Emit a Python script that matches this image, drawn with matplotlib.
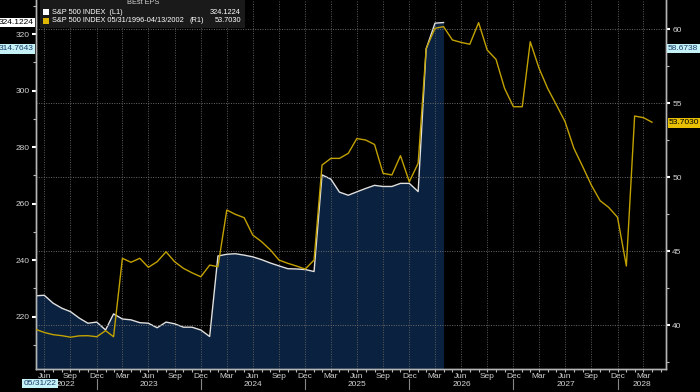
import pandas as pd
import matplotlib
matplotlib.use('Agg')
import matplotlib.pyplot as plt
from matplotlib.patches import Rectangle
from matplotlib.ticker import MultipleLocator
from matplotlib.transforms import blended_transform_factory

# month-end dates, the shifted 1996-2002 series runs the full range
dates = pd.date_range('2022-05-31', periods=72, freq='ME')

# S&P 500 BEst EPS (L1, left axis)
eps_l1 = [227.4, 227.6, 224.8, 223.0, 221.8, 219.5, 217.7, 218.1, 215.3, 221.0,
          219.2, 218.9, 217.9, 217.7, 216.1, 218.1, 217.5, 216.3, 216.3, 215.3,
          213.0, 241.5, 242.1, 242.3, 241.8, 241.2, 240.2, 239.0, 238.0, 237.0,
          236.9, 236.7, 236.0, 270.2, 268.7, 264.1, 263.0, 264.2, 265.4, 266.5,
          266.1, 266.1, 267.2, 267.2, 264.3, 314.7643, 323.9, 324.1224]

# S&P 500 BEst EPS 05/31/1996-04/13/2002 shifted (R1, right axis)
eps_r1 = [39.71, 39.50, 39.35, 39.28, 39.18, 39.27, 39.28, 39.21, 39.62, 39.21,
          44.51, 44.24, 44.51, 43.90, 44.28, 44.95, 44.28, 43.83, 43.53, 43.26,
          44.05, 43.94, 47.77, 47.48, 47.25, 46.08, 45.63, 45.07, 44.39, 44.17,
          43.99, 43.78, 44.39, 50.81, 51.26, 51.26, 51.60, 52.60, 52.50, 52.20,
          50.25, 50.14, 51.44, 49.68, 50.93, 58.6738, 60.05, 60.16, 59.26, 59.10,
          58.97, 60.43, 58.58, 57.95, 55.99, 54.75, 54.75, 59.14, 57.34, 55.99,
          54.86, 53.74, 51.94, 50.70, 49.46, 48.40, 47.95, 47.28, 43.99, 54.12,
          54.01, 53.7030]

title = 'BEst EPS'
label_l1 = 'S&P 500 INDEX  (L1)'
label_r1 = 'S&P 500 INDEX 05/31/1996-04/13/2002'
last_l1 = '324.1224'
last_r1 = '53.7030'
cursor_l1 = '314.7643'
cursor_r1 = '58.6738'
start_label = '05/31/22'

NAVY = '#0a2240'
GOLD = '#c2a200'
TXT = '#d2d2d2'
CYAN = '#c4f2f6'

plt.rcParams['font.family'] = ['Liberation Sans', 'DejaVu Sans']
plt.rcParams['font.size'] = 6
LEG = 5.3

W, H = 700, 392
fig = plt.figure(figsize=(W / 100, H / 100), dpi=100, facecolor='black')
ax = fig.add_axes([35.7 / W, 1 - 369 / H, (666 - 35.7) / W, 369 / H])
ax.set_facecolor('black')
ax2 = ax.twinx()

xmin, xmax = pd.Timestamp('2022-05-31'), pd.Timestamp('2028-06-18')
ylo = 201.5
d1 = dates[:len(eps_l1)]
ax.fill_between(d1, eps_l1, ylo, color=NAVY, lw=0, zorder=1)
ax.plot(d1, eps_l1, color='#e0e0e0', lw=1.0, zorder=3)
ax2.plot(dates, eps_r1, color=GOLD, lw=1.0, zorder=3)

ax.set_xlim(xmin, xmax)
ax.set_ylim(ylo, 332.1)
ax2.set_ylim(37.03, 61.96)

# x axis: quarter-end ticks, year labels underneath
qtrs = pd.date_range('2022-06-30', '2028-03-31', freq='QE')
ax.set_xticks(qtrs)
ax.set_xticklabels([d.strftime('%b') for d in qtrs])
ax.set_xticks(pd.date_range('2022-06-30', '2028-05-31', freq='ME'), minor=True)
ax.tick_params(axis='x', which='both', colors='#bbbbbb', labelcolor=TXT,
               length=2, width=0.8, pad=1)
ax.grid(axis='x', color='#5c5c5c', lw=0.7, ls=(0, (1, 1.5)))

bt = blended_transform_factory(ax.transData, ax.transAxes)
for yr in range(2022, 2029):
    s = max(pd.Timestamp(f'{yr}-01-01'), xmin)
    e = min(pd.Timestamp(f'{yr}-12-31'), xmax)
    ax.text(s + (e - s) / 2, -0.041, str(yr), transform=bt, ha='center',
            va='center', color=TXT, clip_on=False)
    if yr > 2022:
        ax.plot([pd.Timestamp(f'{yr - 1}-12-31')] * 2, [-0.027, -0.055],
                transform=bt, color='#888888', lw=0.8, clip_on=False)

# y axes
ax.yaxis.set_major_locator(MultipleLocator(20))
ax.yaxis.set_minor_locator(MultipleLocator(10))
ax2.yaxis.set_major_locator(MultipleLocator(5))
ax2.yaxis.set_minor_locator(MultipleLocator(2.5))
for a in (ax, ax2):
    a.tick_params(axis='y', which='major', colors='white', labelcolor=TXT,
                  length=3, width=1.5, pad=1.5)
    a.tick_params(axis='y', which='minor', colors='#bbbbbb', length=2, width=0.8)
    for sp in a.spines.values():
        sp.set_color('#b4b4b4')
        sp.set_linewidth(1)
    a.spines['top'].set_visible(False)
ax2.grid(axis='y', color='#6a6a6a', lw=0.7, ls=(0, (1, 1.5)))


def fx(x):
    return x / W


def fy(y):
    return 1 - y / H


# legend block
fig.add_artist(Rectangle((fx(40), fy(28)), 205 / W, 28 / H, transform=fig.transFigure,
                         facecolor='#1a1a1a', edgecolor='none', zorder=5))
fig.text(fx(143), fy(3), title, ha='center', va='center', color=TXT,
         fontsize=LEG, zorder=6)
fig.add_artist(Rectangle((fx(42.5), fy(15)), 6 / W, 6 / H, transform=fig.transFigure,
                         facecolor='white', edgecolor='none', zorder=6))
fig.add_artist(Rectangle((fx(42.5), fy(23.7)), 6 / W, 6 / H, transform=fig.transFigure,
                         facecolor='#e0b800', edgecolor='none', zorder=6))
for y, lab, val in [(12.3, label_l1, last_l1), (20.8, label_r1, last_r1)]:
    fig.text(fx(52), fy(y), lab, va='center', color='white', fontsize=LEG, zorder=6)
    fig.text(fx(241), fy(y), val, ha='right', va='center', color='white',
             fontsize=LEG, zorder=6)
fig.text(fx(189), fy(20.8), '(R1)', va='center', color='white', fontsize=LEG, zorder=6)

# value flags on the axes
box = dict(boxstyle='square,pad=0.15', edgecolor='none')
fig.text(fx(34), fy(22.3), last_l1, ha='right', va='center', color='black',
         bbox=dict(box, facecolor='white'), zorder=6)
fig.text(fx(34), fy(49), cursor_l1, ha='right', va='center', color='#1a3a6a',
         bbox=dict(box, facecolor=CYAN), zorder=6)
fig.text(fx(668), fy(48.3), cursor_r1, ha='left', va='center', color='#1a3a6a',
         bbox=dict(box, facecolor=CYAN), zorder=6)
fig.text(fx(669), fy(123), last_r1, ha='left', va='center', color='black',
         bbox=dict(box, facecolor='#e8c000'), zorder=6)
fig.text(fx(40), fy(383.5), start_label, ha='center', va='center', color='#1a3a6a',
         bbox=dict(box, facecolor=CYAN), zorder=6)

fig.savefig('out.png', dpi=100, facecolor='black')
